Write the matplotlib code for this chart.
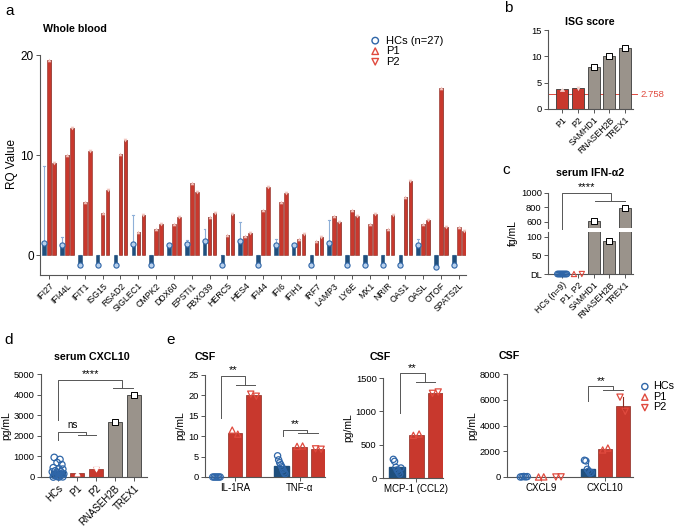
import matplotlib
matplotlib.use("Agg")
import matplotlib.pyplot as plt
import numpy as np

plt.rcParams['font.family'] = ['Liberation Sans', 'DejaVu Sans']

# ---- data -------------------------------------------------------------
genes = ['IFI27', 'IFI44L', 'IFIT1', 'ISG15', 'RSAD2', 'SIGLEC1', 'CMPK2', 'DDX60',
         'EPSTI1', 'FBXO39', 'HERC5', 'HES4', 'IFI44', 'IFI6', 'IFIH1', 'IRF7',
         'LAMP3', 'LY6E', 'MX1', 'NRIR', 'OAS1', 'OASL', 'OTOF', 'SPATS2L']
hc_rq = [1.2, 1.0, -1.0, -1.0, -1.0, 1.1, -1.0, 1.0, 1.1, 1.4, -1.0, 1.4,
         -1.0, 1.0, 1.0, -1.0, 1.2, -1.0, -1.0, -1.0, -1.0, 1.0, -1.2, -1.0]
hc_rq_top = [8.9, 1.8, 0, 0, 0, 4.0, 0, 0, 1.5, 2.6, 0, 3.3,
             0, 1.6, 0, 0, 3.5, 0, 0, 0, 0, 1.6, 0, 0]
p1_rq = [19.5, 10.0, 5.3, 4.2, 10.1, 2.3, 2.6, 3.1, 7.2, 3.8, 2.0, 1.9,
         4.5, 5.3, 1.6, 1.4, 3.9, 4.5, 3.1, 2.6, 5.8, 3.1, 16.7, 2.8]
p2_rq = [9.2, 12.7, 10.4, 6.5, 11.5, 4.0, 3.1, 3.8, 6.3, 4.2, 4.1, 2.2,
         6.8, 6.2, 2.1, 1.8, 3.3, 3.9, 4.1, 4.0, 7.4, 3.5, 2.8, 2.4]

isg_labels = ['P1', 'P2', 'SAMHD1', 'RNASEH2B', 'TREX1']
isg_score = [3.8, 3.9, 7.9, 10.1, 11.5]
isg_cutoff = 2.758

ifn_labels = ['HCs (n=9)', 'P1, P2', 'SAMHD1', 'RNASEH2B', 'TREX1']
ifn_ctrl = [620, 88, 790]          # SAMHD1, RNASEH2B, TREX1
ifn_hc = [0, 0, 0, 0, 0, 0, 0, 0, 0]  # all at detection limit

cx_labels = ['HCs', 'P1', 'P2', 'RNASEH2B', 'TREX1']
cx_hc = [950, 850, 700, 600, 450, 400, 380, 300, 250, 250, 200, 150, 120,
         100, 80, 50, 30, 10, 0, 0]
cx_hc_bar = 290
cx_p1 = 180
cx_p2 = 380
cx_p2_err = 120
cx_ctrl = [2650, 4000]

il1ra_hc = [0, 0, 0, 0, 0, 0]
il1ra_p1 = [11.5, 10.5]
il1ra_p2 = [20.3, 19.8]
il1ra_bars = [0.0, 10.9, 20.0]
tnf_hc = [5.2, 4.2, 3.5, 3.0, 2.5, 1.8, 1.2, 0.8]
tnf_p1 = [7.5, 7.6]
tnf_p2 = [6.9, 6.8]
tnf_bars = [2.7, 7.4, 6.9]

mcp_hc = [280, 250, 160, 120, 90, 60, 150]
mcp_p1 = [640, 660]
mcp_p2 = [1270, 1290]
mcp_bars = [170, 650, 1280]

cxcl9_hc = [0, 20, 40, 10, 30]
cxcl9_p1 = [0, 10]
cxcl9_p2 = [0, 10]
cxcl9_bars = [20, 5, 5]
cxcl10_hc = [1300, 1250, 600, 450, 300, 350]
cxcl10_p1 = [2100, 2250]
cxcl10_p2 = [6200, 5100]
cxcl10_bars = [650, 2150, 5550]

# ---- style ------------------------------------------------------------
BLUE = '#1f4f7d'
BLUE_E = '#2f66a8'
BLUE_F = '#b8d0ec'
RED = '#c8382d'
RED_E = '#8a2a22'
RED_M = '#e04a3e'
GRAY = '#9a938b'
GRAY_E = '#3a3a3a'

W, H = 676, 529
fig = plt.figure(figsize=(W / 100, H / 100), dpi=100)


def px_axes(l, t, r, b):
    ax = fig.add_axes([l / W, 1 - b / H, (r - l) / W, (b - t) / H])
    ax.spines['top'].set_visible(False)
    ax.spines['right'].set_visible(False)
    for s in ['left', 'bottom']:
        ax.spines[s].set_color('#555555')
        ax.spines[s].set_linewidth(0.8)
    ax.tick_params(length=3, width=0.7, color='#555555', labelsize=6.7, pad=1.5)
    ax.patch.set_alpha(0)
    return ax


def bracket(ax, x0, y0, ytop, xmid, ylow, xa, xb, txt, ty=None, fs=8):
    ax.plot([x0, x0, xmid, xmid], [y0, ytop, ytop, ylow], color='#555555', lw=0.7, clip_on=False)
    ax.plot([xa, xb], [ylow, ylow], color='#555555', lw=0.7, clip_on=False)
    if ty is None:
        ty = ytop
    ax.text((x0 + xmid) / 2, ty, txt, ha='center', va='bottom', fontsize=fs)


def label(x, y, s):
    fig.text(x / W, 1 - y / H, s, fontsize=11, ha='left', va='center')


def title(x, y, s, ha='center'):
    fig.text(x / W, 1 - y / H, s, fontsize=7.7, fontweight='bold', ha=ha, va='center')


def jitter_pts(ax, xc, vals, marker, fc, ec, spread=0.22, ms=5):
    n = len(vals)
    offs = np.linspace(-spread, spread, n) if n > 1 else [0]
    ax.scatter(np.array(offs) + xc, vals, marker=marker, s=ms * 4, facecolor=fc,
               edgecolor=ec, linewidth=0.9, zorder=4, clip_on=False)


# ---- panel a ----------------------------------------------------------
ax = px_axes(40, 53, 466, 275)
x = np.arange(len(genes))
d = 0.28
bw = 0.2
ax.bar(x - d, hc_rq, bw, color=BLUE, edgecolor=BLUE, linewidth=0.4, zorder=2)
for xi, v, top in zip(x, hc_rq, hc_rq_top):
    if top > v:
        ax.plot([xi - d, xi - d], [v, top], color='#8fb0d8', lw=0.8, zorder=1)
        ax.plot([xi - d - 0.05, xi - d + 0.05], [top, top], color='#8fb0d8', lw=0.8, zorder=1)
ax.scatter(x - d, hc_rq, s=14, marker='o', facecolor=BLUE_F, edgecolor=BLUE_E, lw=0.8, zorder=3, clip_on=False)
ax.bar(x + 0.04, p1_rq, bw, color='#b0b0b0', linewidth=0, zorder=1)
ax.bar(x + d + 0.04, p2_rq, bw, color='#b0b0b0', linewidth=0, zorder=1)
ax.bar(x, p1_rq, bw, color=RED, edgecolor=RED_E, linewidth=0.4, zorder=2)
ax.bar(x + d, p2_rq, bw, color=RED, edgecolor=RED_E, linewidth=0.4, zorder=2)
ax.scatter(x, p1_rq, s=5, marker='^', facecolor='#f3c4bd', edgecolor='#f3c4bd', lw=0.3, zorder=3)
ax.scatter(x + d, p2_rq, s=5, marker='v', facecolor='#f3c4bd', edgecolor='#f3c4bd', lw=0.3, zorder=3)
ax.set_xlim(-0.52, 23.4)
ax.set_ylim(-2, 20.2)
ax.set_yticks([0, 10, 20])
ax.tick_params(axis='y', labelsize=8.5)
ax.set_xticks(x)
ax.set_xticklabels(genes, rotation=45, ha='right', rotation_mode='anchor', fontsize=6.3)
ax.set_ylabel('RQ Value', fontsize=8.5, labelpad=2)
ax.spines['left'].set_bounds(-2, 20)
h1 = ax.scatter([], [], marker='o', s=22, facecolor='none', edgecolor=BLUE_E, lw=1)
h2 = ax.scatter([], [], marker='^', s=22, facecolor='none', edgecolor=RED_M, lw=1)
h3 = ax.scatter([], [], marker='v', s=22, facecolor='none', edgecolor=RED_M, lw=1)
fig.legend([h1, h2, h3], ['HCs (n=27)', 'P1', 'P2'], loc='upper left',
           bbox_to_anchor=(363 / W, 1 - 30 / H), frameon=False, fontsize=8,
           handletextpad=0.4, labelspacing=0.05, handlelength=1.2, borderpad=0)
label(5, 11, 'a')
title(43, 29, 'Whole blood', ha='left')

# ---- panel b ----------------------------------------------------------
ax = px_axes(548, 30, 633, 109)
xb = np.arange(len(isg_labels))
cols = [RED, RED, GRAY, GRAY, GRAY]
ax.bar(xb, isg_score, 0.75, color=cols, edgecolor=GRAY_E, linewidth=0.6, zorder=2)
ax.scatter(xb[:1], isg_score[:1], marker='^', s=9, facecolor='#f6d0ca', edgecolor='white', lw=0.3, zorder=3)
ax.scatter(xb[1:2], isg_score[1:2], marker='v', s=9, facecolor='#f6d0ca', edgecolor='white', lw=0.3, zorder=3)
ax.scatter(xb[2:], isg_score[2:], marker='s', s=14, facecolor='white', edgecolor='black', lw=0.7, zorder=3)
ax.plot([-0.9, 4.75], [isg_cutoff, isg_cutoff], color=RED_M, lw=0.7, zorder=1, clip_on=False)
ax.text(4.95, isg_cutoff, f'{isg_cutoff:.3f}', color=RED_M, fontsize=6.8, va='center', ha='left')
ax.set_xlim(-0.9, 4.5)
ax.set_ylim(0, 15)
ax.set_yticks([0, 5, 10, 15])
ax.set_xticks(xb)
ax.set_xticklabels(isg_labels, rotation=45, ha='right', rotation_mode='anchor', fontsize=6.3)
label(504, 8, 'b')
title(590, 22, 'ISG score')

# ---- panel c (broken axis) --------------------------------------------
xc = np.arange(len(ifn_labels))
axt = px_axes(548, 193, 633, 228)
axl = px_axes(548, 232, 633, 274)
for a_ in (axt, axl):
    a_.bar(xc[2:], ifn_ctrl, 0.75, color=GRAY, edgecolor=GRAY_E, linewidth=0.6, zorder=2)
    a_.scatter(xc[2:], ifn_ctrl, marker='s', s=14, facecolor='white', edgecolor='black', lw=0.7, zorder=3)
    a_.set_xlim(-0.9, 4.5)
axt.set_ylim(517, 1000)
axt.set_yticks([600, 800, 1000])
axt.spines['bottom'].set_visible(False)
axt.set_xticks([])
axl.set_ylim(0, 113)
axl.set_yticks([0, 50, 100])
axl.set_yticklabels(['DL', '50', '100'])
jitter_pts(axl, 0, ifn_hc, 'o', 'none', BLUE_E, spread=0.3, ms=4)
axl.scatter([0.75], [0], marker='^', s=14, facecolor='none', edgecolor=RED_M, lw=0.8, zorder=4, clip_on=False)
axl.scatter([1.25], [0], marker='v', s=14, facecolor='none', edgecolor=RED_M, lw=0.8, zorder=4, clip_on=False)
axl.set_xticks(xc)
axl.set_xticklabels(ifn_labels, rotation=45, ha='right', rotation_mode='anchor', fontsize=6.3)
fig.text(513 / W, 1 - 233 / H, 'fg/mL', rotation=90, fontsize=7.5, ha='center', va='center')
bracket(axt, 0, 500, 1000, 3.1, 890, 2.1, 4.0, '****', ty=1010)
label(502, 170, 'c')
title(590, 173, 'serum IFN-\u03b12')

# ---- panel d ----------------------------------------------------------
ax = px_axes(41, 374, 147, 477)
xd = np.arange(len(cx_labels))
ax.bar(0, cx_hc_bar, 0.75, color=BLUE, edgecolor=BLUE, zorder=2)
ax.bar([1, 2], [cx_p1, cx_p2], 0.75, color=RED, edgecolor=RED_E, linewidth=0.5, zorder=2)
ax.bar([3, 4], cx_ctrl, 0.75, color=GRAY, edgecolor=GRAY_E, linewidth=0.6, zorder=2)
ax.errorbar([2], [cx_p2], yerr=[[0], [cx_p2_err]], fmt='none', ecolor=RED_M, elinewidth=0.8, capsize=2.5, zorder=3)
hc_off = np.array([-0.2, 0.1, -0.05, 0.2, -0.25, 0.05, 0.25, -0.15, 0.15, -0.3,
                   0.0, 0.3, -0.1, 0.2, -0.2, 0.1, -0.05, 0.25, -0.25, 0.05])
ax.scatter(hc_off, cx_hc, marker='o', s=22, facecolor='none', edgecolor=BLUE_E, lw=0.9, zorder=4, clip_on=False)
ax.scatter([1], [cx_p1], marker='^', s=14, facecolor='white', edgecolor='white', lw=0.5, zorder=4)
ax.scatter([2], [cx_p2], marker='v', s=14, facecolor='white', edgecolor='white', lw=0.5, zorder=4)
ax.scatter([3, 4], cx_ctrl, marker='s', s=16, facecolor='white', edgecolor='black', lw=0.7, zorder=4)
ax.set_xlim(-0.9, 4.7)
ax.set_ylim(0, 5000)
ax.set_yticks([0, 1000, 2000, 3000, 4000, 5000])
ax.set_xticks(xd)
ax.set_xticklabels(cx_labels, rotation=45, ha='right', rotation_mode='anchor', fontsize=7)
ax.set_ylabel('pg/mL', fontsize=7.5, labelpad=2)
bracket(ax, 0, 2750, 4710, 3.4, 4330, 2.9, 3.95, '****', ty=4760)
bracket(ax, 0, 1800, 2200, 1.5, 2050, 1.05, 2.0, 'ns', ty=2300, fs=7)
label(4, 340, 'd')
title(92, 357, 'serum CXCL10')


# ---- panel e ----------------------------------------------------------
def group(ax, xc, bars, hc, p1, p2):
    ax.bar([xc - 1], [bars[0]], 0.8, color=BLUE, edgecolor=BLUE, zorder=2)
    ax.bar([xc, xc + 1], bars[1:], 0.8, color=RED, edgecolor=RED_E, linewidth=0.5, zorder=2)
    jitter_pts(ax, xc - 1, hc, 'o', 'none', BLUE_E, spread=0.2)
    jitter_pts(ax, xc, p1, '^', 'none', RED_M, spread=0.15)
    jitter_pts(ax, xc + 1, p2, 'v', 'none', RED_M, spread=0.15)


ax = px_axes(205, 375, 325, 477)
group(ax, 0, il1ra_bars, il1ra_hc, il1ra_p1, il1ra_p2)
group(ax, 3.5, tnf_bars, tnf_hc, tnf_p1, tnf_p2)
ax.set_xlim(-1.62, 4.86)
ax.set_ylim(0, 25)
ax.set_yticks([0, 5, 10, 15, 20, 25])
ax.set_xticks([0, 3.5])
ax.set_xticklabels(['IL-1RA', 'TNF-\u03b1'], fontsize=7)
ax.set_ylabel('pg/mL', fontsize=7.5, labelpad=2)
bracket(ax, -0.75, 14.4, 24.8, 0.55, 22.6, 0.05, 1.1, '**', ty=24.9)
bracket(ax, 2.6, 10.0, 11.6, 3.9, 10.9, 3.4, 4.5, '**', ty=11.7)
label(166, 340, 'e')
title(205, 357, 'CSF')

ax = px_axes(383, 378, 443, 478)
group(ax, 0, mcp_bars, mcp_hc, mcp_p1, mcp_p2)
ax.set_xlim(-1.74, 1.4)
ax.set_ylim(0, 1500)
ax.set_yticks([0, 500, 1000, 1500])
ax.set_xticks([0])
ax.set_xticklabels(['MCP-1 (CCL2)'], fontsize=7)
ax.set_ylabel('pg/mL', fontsize=7.5, labelpad=2)
bracket(ax, -0.85, 970, 1575, 0.45, 1440, 0.0, 1.0, '**', ty=1580)
title(380, 357, 'CSF')

ax = px_axes(507, 374, 633, 477)
group(ax, 0, cxcl9_bars, cxcl9_hc, cxcl9_p1, cxcl9_p2)
group(ax, 3.7, cxcl10_bars, cxcl10_hc, cxcl10_p1, cxcl10_p2)
ax.plot([2.7, 2.7], [cxcl10_bars[0], 1300], color=BLUE_E, lw=0.8, zorder=3)
ax.plot([4.7, 4.7], [5100, 6200], color=RED_E, lw=0.8, zorder=3)
ax.set_xlim(-1.97, 5.3)
ax.set_ylim(0, 8000)
ax.set_yticks([0, 2000, 4000, 6000, 8000])
ax.set_xticks([0, 3.7])
ax.set_xticklabels(['CXCL9', 'CXCL10'], fontsize=7)
ax.set_ylabel('pg/mL', fontsize=7.5, labelpad=2)
bracket(ax, 2.72, 5930, 7040, 4.16, 6740, 3.58, 4.74, '**', ty=7100)
title(509, 356, 'CSF')

e1 = ax.scatter([], [], marker='o', s=20, facecolor='none', edgecolor=BLUE_E, lw=1)
e2 = ax.scatter([], [], marker='^', s=20, facecolor='none', edgecolor=RED_M, lw=1)
e3 = ax.scatter([], [], marker='v', s=20, facecolor='none', edgecolor=RED_M, lw=1)
fig.legend([e1, e2, e3], ['HCs', 'P1', 'P2'], loc='upper left',
           bbox_to_anchor=(634 / W, 1 - 376 / H), frameon=False, fontsize=7.8,
           handletextpad=0.3, labelspacing=0.05, handlelength=1.0, borderpad=0)

fig.savefig('out.png', dpi=100)
